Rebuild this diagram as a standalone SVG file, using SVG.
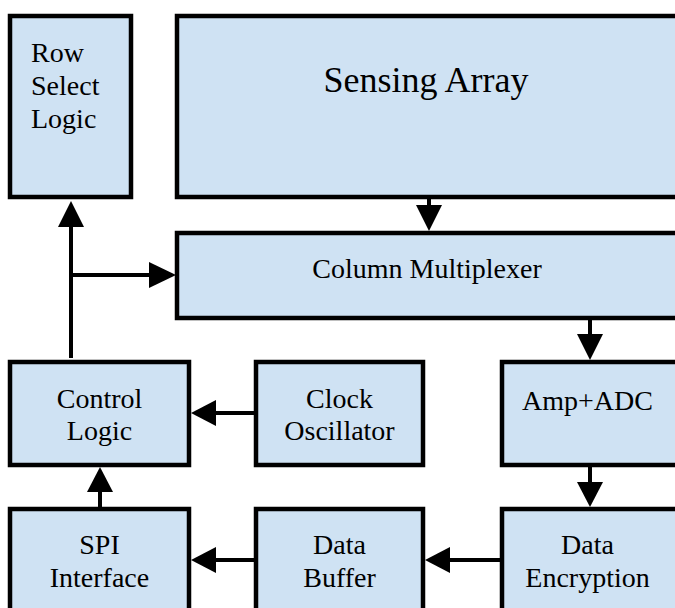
<svg xmlns="http://www.w3.org/2000/svg" width="675" height="608" viewBox="0 0 675 608">
<defs>
<style>
.box{fill:#cfe2f3;stroke:#000;stroke-width:4.5}
.t{font-family:"Liberation Serif","Times New Roman",serif;font-size:28px;fill:#000}
.c{text-anchor:middle}
.w{stroke:#000;stroke-width:4;fill:none}
.h{fill:#000;stroke:none}
</style>
</defs>
<rect width="675" height="608" fill="#fff"/>
<g id="row-select">
<rect class="box" x="10" y="16" width="121" height="181"/>
<text class="t" x="31" y="62">Row</text>
<text class="t" x="31" y="95">Select</text>
<text class="t" x="31" y="128">Logic</text>
</g>
<g id="sensing-array">
<rect class="box" x="177" y="16" width="520" height="181"/>
<text class="t c" x="426" y="92" style="font-size:36px">Sensing Array</text>
</g>
<g id="column-mux">
<rect class="box" x="177" y="233" width="520" height="85"/>
<text class="t c" x="427" y="278">Column Multiplexer</text>
</g>
<g id="control-logic">
<rect class="box" x="10" y="362" width="179" height="103"/>
<text class="t c" x="99.5" y="408">Control</text>
<text class="t c" x="99.5" y="440">Logic</text>
</g>
<g id="clock-osc">
<rect class="box" x="256" y="362" width="167" height="103"/>
<text class="t c" x="339.5" y="408">Clock</text>
<text class="t c" x="339.5" y="440">Oscillator</text>
</g>
<g id="amp-adc">
<rect class="box" x="502" y="362" width="195" height="103"/>
<text class="t c" x="587.5" y="410">Amp+ADC</text>
</g>
<g id="spi">
<rect class="box" x="10" y="509" width="179" height="130"/>
<text class="t c" x="99.5" y="554">SPI</text>
<text class="t c" x="99.5" y="587">Interface</text>
</g>
<g id="data-buffer">
<rect class="box" x="256" y="509" width="167" height="130"/>
<text class="t c" x="339.5" y="554">Data</text>
<text class="t c" x="339.5" y="587">Buffer</text>
</g>
<g id="data-encryption">
<rect class="box" x="502" y="509" width="195" height="130"/>
<text class="t c" x="587.5" y="554">Data</text>
<text class="t c" x="587.5" y="587">Encryption</text>
</g>
<g id="connectors">
<path class="w" d="M71 358 V225"/>
<polygon class="h" points="71,201 58,227 84,227"/>
<path class="w" d="M71 275 H151"/>
<polygon class="h" points="176,275 149,262 149,288"/>
<path class="w" d="M429 199 V207"/>
<polygon class="h" points="429,231 416,205 442,205"/>
<path class="w" d="M590 320 V336"/>
<polygon class="h" points="590,360 577,334 603,334"/>
<path class="w" d="M590 467 V484"/>
<polygon class="h" points="590,507 577,482 603,482"/>
<path class="w" d="M254 413 H214"/>
<polygon class="h" points="191,413 216,400 216,426"/>
<path class="w" d="M100 507 V490"/>
<polygon class="h" points="100,467 87,492 113,492"/>
<path class="w" d="M254 560 H214"/>
<polygon class="h" points="191,560 216,547 216,573"/>
<path class="w" d="M500 560 H448"/>
<polygon class="h" points="425,560 450,547 450,573"/>
</g>
</svg>
